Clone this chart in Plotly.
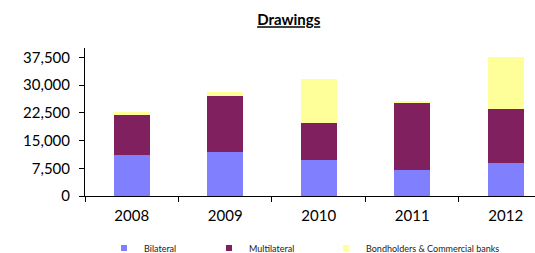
import plotly.graph_objects as go

years = ['2008', '2009', '2010', '2011', '2012']
bilateral = [11100, 11900, 9800, 7000, 9000]
multilateral = [10900, 15000, 10000, 18200, 14600]
bondholders = [600, 1300, 11900, 300, 13900]

series_names = ['Bilateral', 'Multilateral', 'Bondholders & Commercial banks']
series_values = [bilateral, multilateral, bondholders]
colors = ['#8080FF', '#80205F', '#FFFF99']
legend_ids = ['legend', 'legend2', 'legend3']
legend_x_px = [104, 209, 326]

W, H = 535, 253
FONT = 'Lato'

fig = go.Figure()
for name, vals, col, lid in zip(series_names, series_values, colors, legend_ids):
    fig.add_trace(go.Bar(x=years, y=vals, name=name, marker=dict(color=col, line=dict(width=0)),
                         showlegend=False, legendgroup=name))
    fig.add_trace(go.Scatter(x=[None], y=[None], mode='markers', name=name, legendgroup=name,
                             marker=dict(symbol='square', size=6, color=col), legend=lid,
                             showlegend=True))

leg_common = dict(orientation='h', xref='container', yref='container', yanchor='middle',
                  xanchor='left', y=1 - 248 / H, font=dict(family=FONT, size=9, color='#222'),
                  bgcolor='rgba(0,0,0,0)', borderwidth=0, itemsizing='trace')

layout_legends = {}
for lid, px in zip(legend_ids, legend_x_px):
    layout_legends[lid] = dict(leg_common, x=px / W)

fig.update_layout(
    width=W, height=H,
    margin=dict(l=85, r=0, t=48, b=57, autoexpand=False),
    barmode='stack', bargap=0.61,
    plot_bgcolor='white', paper_bgcolor='white',
    title=dict(text='<b><u>Drawings</u></b>', x=288.7 / W, xanchor='center', y=1 - 20 / H,
               yanchor='middle', xref='container', yref='container', automargin=False,
               font=dict(family=FONT, size=15, color='black')),
    font=dict(family=FONT, color='black'),
    **layout_legends,
)

fig.update_xaxes(type='category', range=[-0.5, 4.313], showline=True, linecolor='black', linewidth=1,
                 ticks='outside', tickson='boundaries', ticklen=5, tickcolor='black',
                 showgrid=False, tickfont=dict(family=FONT, size=15, color='black'),
                 ticklabelstandoff=6, fixedrange=True, automargin=False)
fig.update_yaxes(range=[0, 40000], dtick=7500, tick0=0, tickformat=',', showline=True,
                 linecolor='black', linewidth=1, ticks='outside', ticklen=5, tickcolor='black',
                 showgrid=False, zeroline=False, tickfont=dict(family=FONT, size=15, color='black'),
                 ticklabelstandoff=6, fixedrange=True, automargin=False)

fig.write_html('out.html', config={'displayModeBar': False},
               post_script="document.body.style.margin='0';document.body.style.overflow='hidden';")
